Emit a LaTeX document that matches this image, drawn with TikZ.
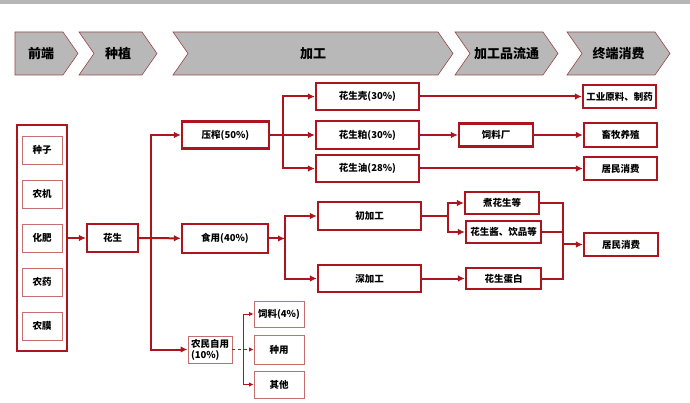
\documentclass[tikz,border=0pt]{standalone}
\usepackage{fontspec}
\setmainfont{Noto Sans CJK SC}
\usepackage{tikz}
\usetikzlibrary{arrows.meta,positioning,calc}
\definecolor{boxred}{RGB}{172,20,30}
\definecolor{thinred}{RGB}{196,110,112}
\definecolor{chevgray}{RGB}{184,184,184}
\definecolor{chevedge}{RGB}{150,70,72}
\definecolor{topstrip}{RGB}{182,182,182}

\begin{document}
\begin{tikzpicture}[
    x=1pt, y=-1pt,
    chev/.style={fill=chevgray, draw=chevedge, line width=0.6pt},
    chevtext/.style={font=\bfseries\fontsize{13}{15}\selectfont, text=black},
    box/.style={draw=boxred, line width=2.1pt, fill=white, inner sep=0pt,
                font=\bfseries\fontsize{9.5}{11}\selectfont, align=center},
    thinbox/.style={draw=thinred, line width=0.9pt, fill=white, inner sep=0pt,
                font=\bfseries\fontsize{9.5}{11}\selectfont, align=center},
    link/.style={draw=boxred, line width=2pt},
    flow/.style={link, -{Latex[length=7pt,width=6.5pt]}},
    thinflow/.style={draw=boxred, line width=0.8pt, -{Latex[length=4.5pt,width=4.5pt]}}
]
\useasboundingbox (0,0) rectangle (690,403);
\fill[topstrip] (0,0) rectangle (690,4);

\draw[chev] (15,32) -- (63,32) -- (78,53.5) -- (63,75) -- (15,75) -- cycle;
\node[chevtext] (stage0) at (41,53.5) {前端};
\foreach \xa/\xb/\lbl [count=\i] in {79/157/种植, 173/453/加工, 455/558/加工品流通, 567/670/终端消费}{
  \draw[chev] (\xa,32) -- (\xb-15,32) -- (\xb,53.5) -- (\xb-15,75)
      -- (\xa,75) -- (\xa+15,53.5) -- cycle;
  \node[chevtext] (stage\i) at ({(\xa+\xb)/2},53.5) {\lbl};
}

\node[draw=boxred, line width=2.1pt, minimum width=50, minimum height=226] (inputs) at (42,238) {};
\foreach \lbl [count=\i from 0] in {种子, 农机, 化肥, 农药, 农膜}
  \node[thinbox, minimum width=40, minimum height=28] (in\i) at (42,150+44*\i) {\lbl};

\node[box, minimum width=51, minimum height=28] (huasheng) at (112.5,238) {花生};
\node[box, minimum width=87, minimum height=27] (yazha) at (225.5,135) {压榨(50\%)};
\node[box, minimum width=86, minimum height=29] (shiyong) at (225,238.5) {食用(40\%)};
\node[thinbox, minimum width=44, minimum height=27, align=left] (nongmin) at (210,349.5) {农民自用\\(10\%)};

\node[thinbox, minimum width=50, minimum height=26] (siliao) at (279,314) {饲料(4\%)};
\node[thinbox, minimum width=50, minimum height=29] (zhongyong) at (279,349.5) {种用};
\node[thinbox, minimum width=50, minimum height=27] (qita) at (279,384.5) {其他};

\node[box, minimum width=103, minimum height=27] (ke) at (367.5,96.5) {花生壳(30\%)};
\node[box, minimum width=103, minimum height=28] (po) at (367.5,135) {花生粕(30\%)};
\node[box, minimum width=103, minimum height=27] (you) at (367.5,168.5) {花生油(28\%)};
\node[box, minimum width=74, minimum height=23] (silc) at (496,135) {饲料厂};
\node[box, minimum width=73, minimum height=23] (gongye) at (619.5,96.5) {工业原料、制药};
\node[box, minimum width=73, minimum height=24] (xumu) at (620.5,135) {畜牧养殖};
\node[box, minimum width=73, minimum height=23] (jumin1) at (620.5,168.5) {居民消费};

\node[box, minimum width=103, minimum height=28] (chu) at (369.5,216) {初加工};
\node[box, minimum width=103, minimum height=27] (shen) at (369.5,278.5) {深加工};
\node[box, minimum width=74, minimum height=22] (zhu) at (502,203) {煮花生等};
\node[box, minimum width=75, minimum height=22] (jiang) at (503.5,232) {花生酱、饮品等};
\node[box, minimum width=75, minimum height=21] (danbai) at (503.5,278.5) {花生蛋白};
\node[box, minimum width=74, minimum height=23] (jumin2) at (621,244.5) {居民消费};

\coordinate (sp1) at (151,238);
\coordinate (sp2) at (283,135);
\coordinate (sp3) at (285,238.5);
\coordinate (sp4) at (448,216);
\coordinate (sp5) at (243,349.5);
\coordinate (mg) at (563,244.5);

\draw[flow] (inputs.east |- huasheng) -- (huasheng);
\draw[flow] (huasheng) -- (shiyong);
\draw[flow] (sp1) |- (yazha);
\draw[flow] (sp1) |- (nongmin);

\draw[link] (yazha) -- (sp2);
\draw[flow] (sp2) |- (ke);
\draw[flow] (sp2) -- (po);
\draw[flow] (sp2) |- (you);
\draw[flow] (ke) -- (gongye);
\draw[flow] (po) -- (silc);
\draw[flow] (silc) -- (xumu);
\draw[flow] (you) -- (jumin1);

\draw[flow] (shiyong) -- (sp3);
\draw[flow] (sp3) |- (chu);
\draw[flow] (sp3) |- (shen);
\draw[link] (chu) -- (sp4);
\draw[flow] (sp4) |- (zhu);
\draw[flow] (sp4) |- (jiang);
\draw[flow] (shen) -- (danbai);
\draw[link] (zhu) -| (mg);
\draw[link] (jiang) -| (mg);
\draw[link] (danbai) -| (mg);
\draw[flow] (mg) -- (jumin2);

\draw[thinflow, dashed] (nongmin) -- (zhongyong);
\draw[thinflow] (sp5) |- (siliao);
\draw[thinflow] (sp5) |- (qita);
\end{tikzpicture}
\end{document}
